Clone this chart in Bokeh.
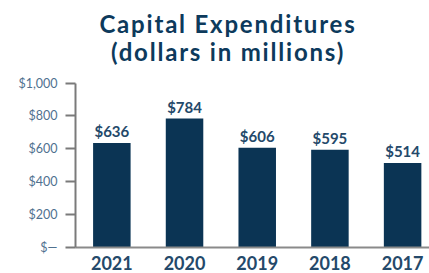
from bokeh.plotting import figure
from bokeh.models import ColumnDataSource, LabelSet, FixedTicker, Range1d, Div
from bokeh.layouts import column
from bokeh.core.properties import value
from bokeh.embed import file_html
from bokeh.resources import INLINE

# Data
years = ["2021", "2020", "2019", "2018", "2017"]
capex = [636, 784, 606, 595, 514]
value_labels = ["$636", "$784", "$606", "$595", "$514"]
y_ticks = [0, 200, 400, 600, 800, 1000]
y_tick_labels = ["$\u2014", "$200", "$400", "$600", "$800", "$1,000"]
title_lines = ["Capital Expenditures", "(dollars in millions)"]

NAVY = "#0b3454"
TEXT = "#24496a"
TICK = "#50718f"
TITLE = "#0d3a5c"
FONT = "Lato"

# Title block: one fixed-height block per line
line_style = ("display:block;height:28.8px;line-height:28.8px;overflow:visible;"
              "white-space:nowrap;")
title_html = (
    '<div style="margin-left:28px;width:400px;text-align:center;'
    'font-family:Lato;font-weight:bold;font-size:24px;letter-spacing:1.8px;'
    f'color:{TITLE};padding-top:9.6px;">'
    + "".join(f'<div style="{line_style}">{t}</div>' for t in title_lines)
    + "</div>"
)
title_div = Div(text=title_html, width=429, height=70, margin=0)

idx = list(range(len(years)))
src = ColumnDataSource(dict(x=idx, top=capex, lab=value_labels))

p = figure(width=429, height=203, output_backend="svg", toolbar_location=None,
           x_range=Range1d(-0.5, 4.37), y_range=Range1d(0, 1040),
           min_border_left=75, min_border_right=0, min_border_top=6,
           min_border_bottom=26, margin=0)
p.outline_line_color = None
p.grid.visible = False
p.background_fill_color = "white"
p.border_fill_color = "white"

p.vbar(x="x", top="top", width=0.516, bottom=0, source=src,
       fill_color=NAVY, line_color=None)

p.add_layout(LabelSet(x="x", y="top", text="lab", source=src, y_offset=6,
                      text_align="center", text_baseline="alphabetic",
                      text_font=value(FONT), text_font_style="bold",
                      text_font_size="15px", text_color=TEXT))

# y axis
ya = p.yaxis[0]
ya.bounds = (y_ticks[0], y_ticks[-1])
ya.ticker = FixedTicker(ticks=y_ticks)
ya.major_label_overrides = {t: l for t, l in zip(y_ticks, y_tick_labels)}
ya.minor_tick_line_color = None
ya.major_tick_in = 0
ya.major_tick_out = 10
ya.major_tick_line_color = "#7a7a7a"
ya.major_tick_line_width = 2
ya.axis_line_color = "#7a7a7a"
ya.axis_line_width = 2
ya.major_label_text_font = FONT
ya.major_label_text_font_size = "12.5px"
ya.major_label_text_color = TICK
ya.major_label_standoff = 8

# x axis
xa = p.xaxis[0]
xa.ticker = FixedTicker(ticks=idx)
xa.major_label_overrides = {i: y for i, y in zip(idx, years)}
xa.minor_tick_line_color = None
xa.major_tick_line_color = None
xa.major_tick_in = 0
xa.major_tick_out = 0
xa.axis_line_color = "#8a8a8a"
xa.axis_line_width = 2
xa.major_label_text_font = FONT
xa.major_label_text_font_style = "bold"
xa.major_label_text_font_size = "18px"
xa.major_label_text_color = TEXT
xa.major_label_standoff = 8

layout = column(title_div, p, spacing=0, margin=0)
open("out.html", "w").write(file_html(layout, INLINE))
